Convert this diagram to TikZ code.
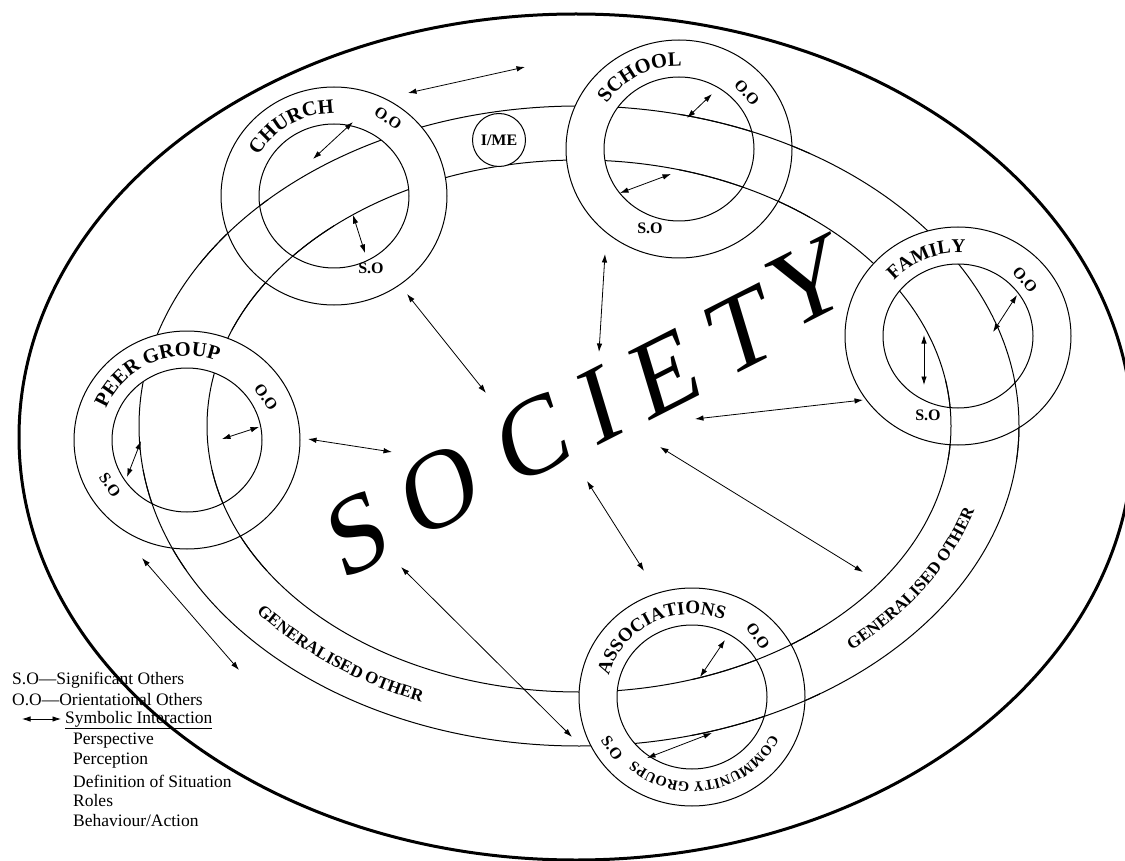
\documentclass[tikz,border=0pt]{standalone}
\usepackage{fontspec}
\setmainfont{Liberation Serif}
\usetikzlibrary{arrows.meta,decorations.text,calc}
\begin{document}
\begin{tikzpicture}[x=1pt,y=1pt,
  si/.style={{Latex[length=8.5pt,width=5.5pt]}-{Latex[length=8.5pt,width=5.5pt]}, line width=0.8pt},
  thinline/.style={line width=1pt},
  ringfill/.style={fill=white, even odd rule},
  lab/.style={font=\bfseries\fontsize{16}{16}\selectfont, inner sep=0pt},
  legend/.style={font=\fontsize{17.5}{20}\selectfont, anchor=west, inner sep=0pt},
  soc/.style={font=\fontsize{108}{108}\selectfont, inner sep=0pt, rotate=27, xslant=0.18},
  ringtext/.style={decorate, decoration={text along path, text align=center, text={#1}}},
  bandlines/.pic={
    \draw[thinline] (bandc) ellipse [x radius=440, y radius=320];
    \draw[thinline] (bandc) ellipse [x radius=372, y radius=266];
  }
]
\useasboundingbox (0,0) rectangle (1125,-861);

% generalised other band
\coordinate (bandc) at (579,-426);
\draw[thinline] (bandc) ellipse [x radius=440, y radius=320];
\draw[thinline] (bandc) ellipse [x radius=372, y radius=266];

% group rings
\coordinate (church) at (334,-196);
\coordinate (school) at (679,-149);
\coordinate (family) at (958,-336);
\coordinate (peer) at (187,-440);
\coordinate (assoc) at (692,-697);
\foreach \g in {church,school,family,peer,assoc}{
  \fill[ringfill] (\g) ellipse [x radius=113, y radius=109] (\g) ellipse [x radius=75, y radius=72];
}

% band segments that pass over the rings
\begin{scope}
  \clip (200,-200) rectangle (334,-330)
        (679,-20) rectangle (810,-270)
        (830,-380) rectangle (1090,-460)
        (692,-570) rectangle (820,-820)
        (60,-470) rectangle (320,-570);
  \draw[thinline] (bandc) ellipse [x radius=440, y radius=320];
  \draw[thinline] (bandc) ellipse [x radius=372, y radius=266];
\end{scope}

\foreach \g in {church,school,family,peer,assoc}{
  \draw[thinline] (\g) ellipse [x radius=113, y radius=109];
  \draw[thinline] (\g) ellipse [x radius=75, y radius=72];
}

% I/ME
\node[draw, thinline, fill=white, circle, minimum size=53pt, inner sep=0pt,
      font=\bfseries\fontsize{16}{16}\selectfont] (ime) at (499,-140) {I/ME};

% ring labels
\path[ringtext={|\bfseries\fontsize{20.5}{20.5}\selectfont|CHURCH}]
  ($(church)+(181:86 and 83)$) arc [start angle=181, end angle=61, x radius=86, y radius=83];
\path[ringtext={|\bfseries\fontsize{20.5}{20.5}\selectfont|SCHOOL}]
  ($(school)+(178:86 and 83)$) arc [start angle=178, end angle=58, x radius=86, y radius=83];
\path[ringtext={|\bfseries\fontsize{19.5}{19.5}\selectfont|FAMILY}]
  ($(family)+(172:86 and 83)$) arc [start angle=172, end angle=52, x radius=86, y radius=83];
\path[ringtext={|\bfseries\fontsize{20.5}{20.5}\selectfont|PEER GROUP}]
  ($(peer)+(180:87 and 84)$) arc [start angle=180, end angle=48, x radius=87, y radius=84];
\path[ringtext={|\bfseries\fontsize{19}{19}\selectfont|ASSOCIATIONS}]
  ($(assoc)+(182:86 and 83)$) arc [start angle=182, end angle=52, x radius=86, y radius=83];
\path[ringtext={|\bfseries\fontsize{14.5}{14.5}\selectfont|COMMUNITY GROUPS}]
  ($(assoc)+(2:88 and 85)$) arc [start angle=2, end angle=-159, x radius=88, y radius=85];

% O.O / S.O labels
\node[lab, rotate=-34] (chOO) at (388,-118) {O.O};
\node[lab] (chSO) at (371,-268) {S.O};
\node[lab, rotate=-48] (scOO) at (747,-93) {O.O};
\node[lab] (scSO) at (650,-228) {S.O};
\node[lab, rotate=-49] (faOO) at (1025,-280) {O.O};
\node[lab] (faSO) at (928,-415) {S.O};
\node[lab, rotate=-55] (peOO) at (266,-397) {O.O};
\node[lab, rotate=-55] (peSO) at (110,-485) {S.O};
\node[lab, rotate=-55] (asOO) at (758,-636) {O.O};
\node[lab, rotate=-55] (asSO) at (612,-748) {S.O};

% arrows inside rings
\coordinate (c1a) at (313,-159); \coordinate (c1b) at (353,-122);
\coordinate (c2a) at (353,-215); \coordinate (c2b) at (365,-253);
\coordinate (s1a) at (687,-118); \coordinate (s1b) at (712,-94);
\coordinate (s2a) at (620,-193); \coordinate (s2b) at (671,-174);
\coordinate (f1a) at (924,-335); \coordinate (f1b) at (924,-385);
\coordinate (f2a) at (993,-332); \coordinate (f2b) at (1017,-295);
\coordinate (p1a) at (222,-439); \coordinate (p1b) at (259,-427);
\coordinate (p2a) at (127,-477); \coordinate (p2b) at (141,-441);
\coordinate (a1a) at (700,-677); \coordinate (a1b) at (725,-640);
\coordinate (a2a) at (647,-758); \coordinate (a2b) at (712,-733);
\foreach \p in {c1,c2,s1,s2,f1,f2,p1,p2,a1,a2}{\draw[si] (\p a) -- (\p b);}

% arrows between society and groups
\coordinate (i1a) at (408,-93);  \coordinate (i1b) at (525,-67);
\coordinate (i2a) at (407,-294); \coordinate (i2b) at (486,-393);
\coordinate (i3a) at (605,-254); \coordinate (i3b) at (599,-352);
\coordinate (i4a) at (308,-439); \coordinate (i4b) at (392,-452);
\coordinate (i5a) at (695,-419); \coordinate (i5b) at (863,-400);
\coordinate (i6a) at (660,-447); \coordinate (i6b) at (863,-572);
\coordinate (i7a) at (587,-481); \coordinate (i7b) at (644,-571);
\coordinate (i8a) at (401,-567); \coordinate (i8b) at (572,-737);
\coordinate (i9a) at (142,-558); \coordinate (i9b) at (239,-670);
\foreach \p in {i1,i2,i3,i4,i5,i6,i7,i8,i9}{\draw[si] (\p a) -- (\p b);}

% generalised other labels
\path[ringtext={|\bfseries\fontsize{17}{17}\selectfont|GENERALISED OTHER}]
  ($(bandc)+(212:412 and 299)$) arc [start angle=212, end angle=253, x radius=412, y radius=299];
\path[ringtext={|\bfseries\fontsize{17}{17}\selectfont|GENERALISED OTHER}]
  ($(bandc)+(-53:412 and 299)$) arc [start angle=-53, end angle=-11, x radius=412, y radius=299];

% SOCIETY
\node[soc] (sS) at (358,-534) {S};
\node[soc] (sO) at (440,-490) {O};
\node[soc] (sC) at (533,-438) {C};
\node[soc] (sI) at (600,-405) {I};
\node[soc] (sE) at (666,-373) {E};
\node[soc] (sT) at (743,-331) {T};
\node[soc] (sY) at (809,-282) {Y};

% legend
\node[legend] (l1) at (12,-680) {S.O—Significant Others};
\node[legend] (l2) at (12,-700) {O.O—Orientational Others};
\coordinate (la) at (22,-719); \coordinate (lb) at (61,-719);
\draw[si] (la) -- (lb);
\node[legend] (l3) at (65,-720) {\underline{Symbolic Interaction}};
\node[legend] (l4) at (73,-741) {Perspective};
\node[legend] (l5) at (73,-761) {Perception};
\node[legend] (l6) at (73,-781) {Definition of Situation};
\node[legend] (l7) at (73,-801) {Roles};
\node[legend] (l8) at (73,-821) {Behaviour/Action};

% outer society ellipse
\draw[line width=3pt] (576,-437) ellipse [x radius=557, y radius=423];
\end{tikzpicture}
\end{document}
